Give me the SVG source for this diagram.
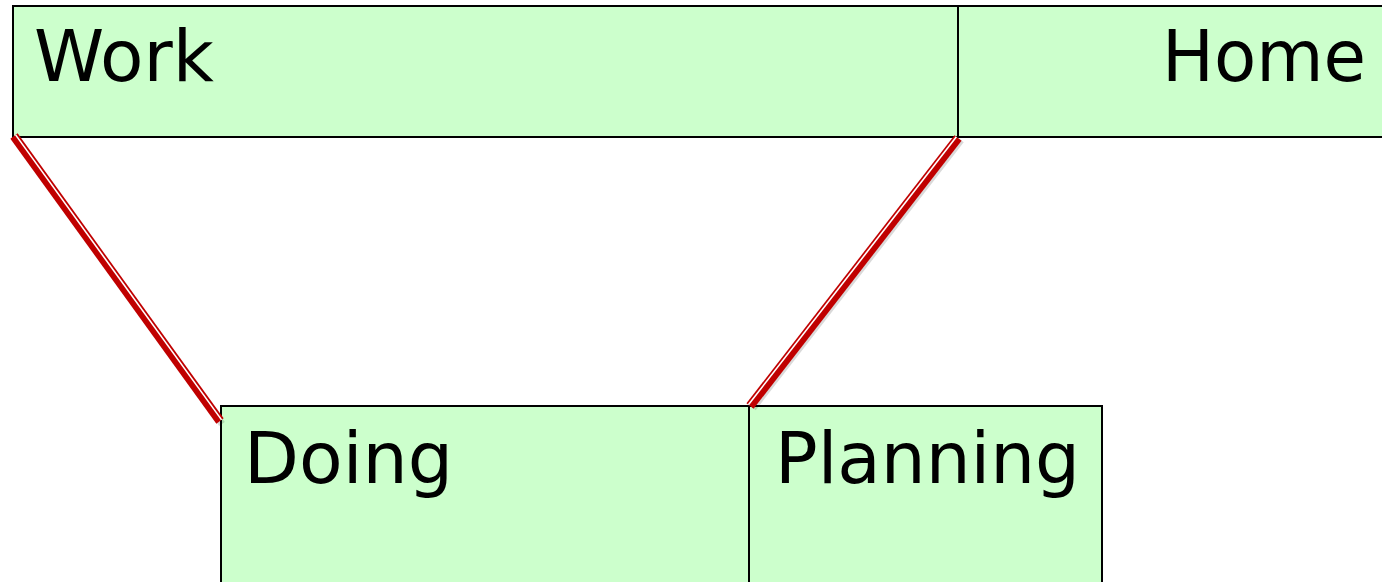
<svg xmlns="http://www.w3.org/2000/svg" width="1382" height="582" viewBox="0 0 1382 582">
<style>
.box{fill:#ccffcc;stroke:#000;stroke-width:2}
.lbl{font-family:"DejaVu Sans",sans-serif;font-size:71px;fill:#000}
.red{stroke:#c00000;stroke-width:9;stroke-linecap:butt}
.gap{stroke:#ffffff;stroke-width:1.6}
.sh{stroke:#000;stroke-opacity:0.15;stroke-width:7}
</style>
<rect width="1382" height="582" fill="#fff"/>
<g id="work"><rect class="box" x="13" y="6" width="945" height="131"/><text class="lbl" x="34" y="81" textLength="180" lengthAdjust="spacingAndGlyphs">Work</text></g>
<g id="home"><rect class="box" x="958" y="6" width="430" height="131"/><text class="lbl" x="1162" y="81" textLength="204" lengthAdjust="spacingAndGlyphs">Home</text></g>
<g id="doing"><rect class="box" x="221" y="406" width="528" height="190"/><text class="lbl" x="244" y="483" textLength="209" lengthAdjust="spacingAndGlyphs">Doing</text></g>
<g id="planning"><rect class="box" x="749" y="406" width="353" height="190"/><text class="lbl" x="775" y="483" textLength="305" lengthAdjust="spacingAndGlyphs">Planning</text></g>
<g id="connectors">
<line class="sh" x1="16" y1="139" x2="222" y2="424"/>
<line class="red" x1="14" y1="136" x2="220" y2="421"/>
<line class="gap" x1="15.6" y1="134.9" x2="221.6" y2="419.9"/>
<line class="sh" x1="961" y1="140" x2="753" y2="408"/>
<line class="red" x1="958" y1="138" x2="750" y2="406"/>
<line class="gap" x1="956.4" y1="136.8" x2="748.4" y2="404.8"/>
</g>
</svg>
